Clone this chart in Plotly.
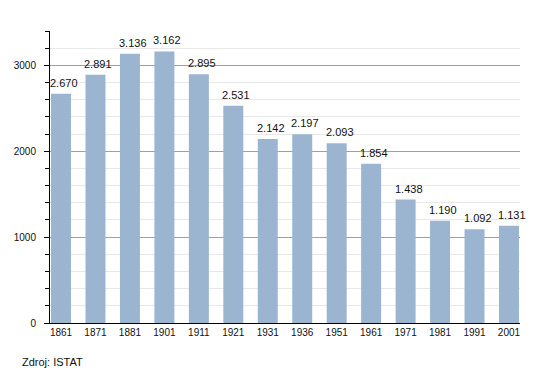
import plotly.graph_objects as go

years = ["1861", "1871", "1881", "1901", "1911", "1921", "1931", "1936",
         "1951", "1961", "1971", "1981", "1991", "2001"]
population = [2670, 2891, 3136, 3162, 2895, 2531, 2142, 2197, 2093, 1854,
              1438, 1190, 1092, 1131]
y_ticks = [0, 1000, 2000, 3000]
source_note = "Zdroj: ISTAT"

labels = [f"{v:,}".replace(",", ".") for v in population]
xpos = list(range(len(years)))
FONT = "Liberation Sans, Arial, sans-serif"

fig = go.Figure()
fig.add_trace(go.Bar(
    x=xpos, y=population, width=0.58,
    marker=dict(color="#9bb4cf", line=dict(width=0)),
    hoverinfo="skip",
))

for xi, v, lab in zip(xpos, population, labels):
    fig.add_annotation(
        x=xi, y=v, text=lab, showarrow=False,
        xanchor="center", yanchor="bottom", xshift=3, yshift=3,
        font=dict(family=FONT, size=11, color="#111"),
    )

fig.update_layout(
    width=550, height=373,
    margin=dict(l=50, r=30, t=31, b=50),
    paper_bgcolor="white", plot_bgcolor="white",
    showlegend=False,
    font=dict(family=FONT, size=10, color="#111"),
    xaxis=dict(
        tickmode="array", tickvals=xpos, ticktext=years,
        range=[-0.32, len(years) - 1 + 0.32],
        showline=True, linecolor="black", linewidth=1,
        showgrid=False, ticks="", zeroline=False,
    ),
    yaxis=dict(
        range=[0, 3400],
        tickmode="array", tickvals=y_ticks,
        showline=True, linecolor="black", linewidth=1,
        ticks="outside", ticklen=5, tickcolor="black",
        ticklabelstandoff=6,
        showgrid=True, gridcolor="#a0a0a0", gridwidth=1,
        zeroline=False,
        minor=dict(dtick=200, showgrid=True, gridcolor="#e8e8e8",
                   ticks="outside", ticklen=4, tickcolor="black"),
    ),
)

fig.add_annotation(
    text=source_note, xref="paper", yref="paper",
    x=-30 / 470, y=-39 / 292, xanchor="left", yanchor="middle",
    showarrow=False, font=dict(family=FONT, size=11, color="#111"),
)

fig.write_html("out.html", config={"displayModeBar": False},
               post_script="document.body.style.margin='0';")
